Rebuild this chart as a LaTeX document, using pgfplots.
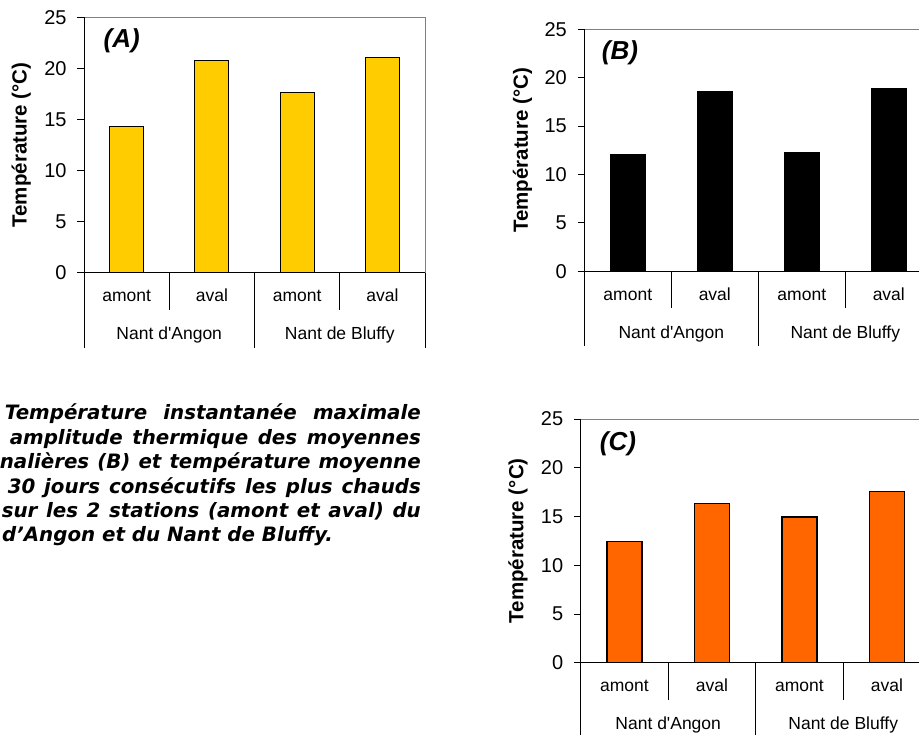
\documentclass[border=0pt]{standalone}
\usepackage{fontspec}
\setmainfont{Liberation Sans}
\newfontfamily\capfont{DejaVu Sans}
\usepackage{pgfplots}
\pgfplotsset{compat=1.18}
\definecolor{barA}{HTML}{FFCC00}
\definecolor{barC}{HTML}{FF6600}
\newcommand\tlfont{\fontsize{17.5}{20}\selectfont}
\newcommand\ytfont{\fontsize{20}{22}\selectfont}
\newcommand\capline{\capfont\bfseries\itshape\fontsize{19.8}{24}\selectfont}
\pgfplotsset{
  panel/.style={
    scale only axis, anchor=south west,
    xmin=-0.5, xmax=3.5, ymin=0, ymax=25,
    ytick={0,5,...,25}, xtick=\empty,
    ytick pos=left, tick align=outside, major tick length=6.7pt,
    axis line style={draw=gray, line width=0.8pt},
    tick style={black, line width=0.8pt},
    tick label style={font=\ytfont},
    /pgf/number format/assume math mode=true,
    yticklabel style={inner sep=0pt, xshift=-10.6pt},
    ybar, bar width=0.4, bar shift=0pt,
    clip=false,
    ylabel={Température (°C)},
    ylabel style={font=\bfseries\fontsize{20.5}{22}\selectfont, anchor=center},
  },
}
\newcommand\decorate{%
  \draw[black, line width=0.8pt] (rel axis cs:0,1) -- (rel axis cs:0,0) -- (rel axis cs:1,0);
  \draw[black, line width=0.8pt] (axis cs:-0.5,0) -- ++(0pt,-75pt);
  \draw[black, line width=0.8pt] (axis cs:1.5,0) -- ++(0pt,-75pt);
  \draw[black, line width=0.8pt] (axis cs:3.5,0) -- ++(0pt,-75pt);
  \draw[black, line width=0.8pt] (axis cs:0.5,0) -- ++(0pt,-37pt);
  \draw[black, line width=0.8pt] (axis cs:2.5,0) -- ++(0pt,-37pt);
  \node[anchor=base, font=\tlfont, yshift=-29pt] at (axis cs:0,0) {amont};
  \node[anchor=base, font=\tlfont, yshift=-29pt] at (axis cs:1,0) {aval};
  \node[anchor=base, font=\tlfont, yshift=-29pt] at (axis cs:2,0) {amont};
  \node[anchor=base, font=\tlfont, yshift=-29pt] at (axis cs:3,0) {aval};
  \node[anchor=base, font=\tlfont, yshift=-67pt] at (axis cs:0.5,0) {Nant d\textquotesingle Angon};
  \node[anchor=base, font=\tlfont, yshift=-67pt] at (axis cs:2.5,0) {Nant de Bluffy};
}
\begin{document}
\begin{tikzpicture}
\path[use as bounding box] (0pt,0pt) rectangle (919pt,735pt);

% (A)
\begin{axis}[panel, at={(84pt,462.3pt)}, width=341pt, height=255.4pt,
  ylabel style={at={(axis description cs:-0.1839,0.5)}}]
\addplot[fill=barA, draw=black, line width=1.1pt] coordinates {(0,14.3) (1,20.75) (2,17.6) (3,21.1)};
\decorate
\node[font=\bfseries\itshape\fontsize{26}{28}\selectfont] at (axis description cs:0.1106,0.908) {(A)};
\end{axis}

% (B)
\begin{axis}[panel, at={(584.3pt,463.7pt)}, width=348pt, height=242pt,
  ylabel style={at={(axis description cs:-0.1776,0.5)}}]
\addplot[fill=black, draw=black, line width=1.1pt] coordinates {(0,12.1) (1,18.6) (2,12.3) (3,18.9)};
\decorate
\node[font=\bfseries\itshape\fontsize{26}{28}\selectfont] at (axis description cs:0.1026,0.901) {(B)};
\end{axis}

% (C)
\begin{axis}[panel, at={(580.7pt,72.3pt)}, width=350pt, height=243.7pt,
  ylabel style={at={(axis description cs:-0.179,0.5)}}]
\addplot[fill=barC, draw=black, line width=1.1pt] coordinates {(0,12.4) (1,16.3) (2,14.95) (3,17.55)};
\decorate
\node[font=\bfseries\itshape\fontsize{26}{28}\selectfont] at (axis description cs:0.1066,0.898) {(C)};
\end{axis}

% caption
\node[anchor=base east, inner sep=0pt] at (421pt,315pt) {\capline\makebox[416pt][s]{Température instantanée maximale}};
\node[anchor=base east, inner sep=0pt] at (421pt,290.6pt) {\capline\makebox[411pt][s]{amplitude thermique des moyennes}};
\node[anchor=base east, inner sep=0pt] at (421pt,266.2pt) {\capline\makebox[421pt][s]{nalières (B) et température moyenne}};
\node[anchor=base east, inner sep=0pt] at (421pt,241.8pt) {\capline\makebox[413pt][s]{30 jours consécutifs les plus chauds}};
\node[anchor=base east, inner sep=0pt] at (421pt,217.4pt) {\capline\makebox[419pt][s]{sur les 2 stations (amont et aval) du}};
\node[anchor=base west, inner sep=0pt] at (2pt,193pt) {\capline d’Angon et du Nant de Bluffy.};
\end{tikzpicture}
\end{document}
